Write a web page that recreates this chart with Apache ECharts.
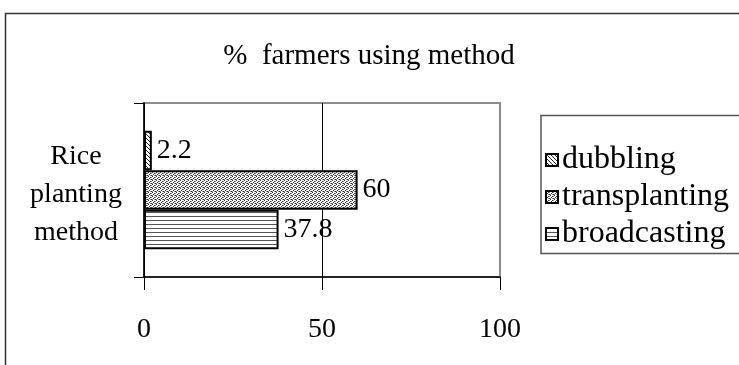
<!DOCTYPE html>
<html>
<head>
<meta charset="utf-8">
<script src="https://cdn.jsdelivr.net/npm/echarts@6/dist/echarts.min.js"></script>
<style>
  html, body { margin: 0; padding: 0; background: #fff; }
  #chart { width: 739px; height: 365px; }
</style>
</head>
<body>
<div id="chart"></div>
<script>
// Chart data
const titleText = '%  farmers using method';
const categories = ['Rice\nplanting\nmethod'];
const seriesNames = ['dubbling', 'transplanting', 'broadcasting'];
const dubbling = [2.2];
const transplanting = [60];
const broadcasting = [37.8];
const legendOrder = ['dubbling', 'transplanting', 'broadcasting'];
const xTicks = [0, 50, 100];

const FONT = '"Liberation Serif", "Times New Roman", serif';

// Fill patterns drawn on small tiles
function tile(w, h, draw) {
  const c = document.createElement('canvas');
  c.width = w; c.height = h;
  const ctx = c.getContext('2d');
  ctx.fillStyle = '#fff';
  ctx.fillRect(0, 0, w, h);
  draw(ctx);
  return c;
}
const diagTile = tile(4, 4, ctx => {
  ctx.fillStyle = '#222';
  for (let i = 0; i < 4; i++) ctx.fillRect(i, i, 1, 1);
});
const dotTile = tile(4, 4, ctx => {
  ctx.fillStyle = '#333';
  ctx.fillRect(0, 0, 1, 1);
  ctx.fillRect(2, 1, 1, 1);
  ctx.fillRect(1, 2, 1, 1);
  ctx.fillRect(3, 3, 1, 1);
  ctx.fillStyle = '#888';
  ctx.fillRect(3, 1, 1, 1);
  ctx.fillRect(0, 3, 1, 1);
  ctx.fillRect(2, 3, 1, 1);
});
const lineTile = tile(4, 4, ctx => {
  ctx.fillStyle = '#555';
  ctx.fillRect(0, 0, 4, 1);
});
const fills = {
  broadcasting: { image: lineTile, repeat: 'repeat' },
  transplanting: { image: dotTile, repeat: 'repeat' },
  dubbling: { image: diagTile, repeat: 'repeat' }
};
const values = { broadcasting, transplanting, dubbling };

const chart = echarts.init(document.getElementById('chart'), null, { renderer: 'canvas' });

chart.setOption({
  animation: false,
  backgroundColor: '#fff',
  title: {
    text: titleText,
    left: 364,
    top: 37,
    textAlign: 'center',
    textStyle: { fontFamily: FONT, fontSize: 29, fontWeight: 'normal', color: '#000' }
  },
  legend: {
    data: legendOrder,
    orient: 'vertical',
    left: 545,
    top: 144,
    itemWidth: 12,
    itemHeight: 12,
    itemGap: 5,
    padding: 0,
    icon: 'rect',
    textStyle: { fontFamily: FONT, fontSize: 32, color: '#000', padding: [0, 0, 0, -1] }
  },
  grid: {
    left: 144,
    right: 239,
    top: 103,
    bottom: 88,
    show: true,
    borderColor: '#8c8c8c',
    borderWidth: 2,
    containLabel: false
  },
  xAxis: {
    type: 'value',
    min: 0,
    max: 100,
    interval: 50,
    axisLine: { show: true, lineStyle: { color: '#000', width: 1.5 } },
    axisTick: { show: true, length: 13, lineStyle: { color: '#000', width: 1 } },
    axisLabel: {
      margin: 39,
      fontFamily: FONT,
      fontSize: 28,
      color: '#000',
      customValues: xTicks
    },
    splitLine: { show: true, lineStyle: { color: ['#000', '#000', '#8c8c8c'], width: 1 } }
  },
  yAxis: {
    type: 'category',
    data: categories,
    axisLine: { show: true, lineStyle: { color: '#000', width: 1.5 } },
    axisTick: { show: true, length: 10, lineStyle: { color: '#000', width: 1 } },
    axisLabel: {
      margin: 68,
      align: 'center',
      fontFamily: FONT,
      fontSize: 28,
      lineHeight: 38,
      color: '#000',
      // a thin spacer line on top nudges the three text lines down a little
      formatter: v => '{gap|}\n' + v,
      rich: { gap: { lineHeight: 9, fontSize: 1 } }
    }
  },
  series: seriesNames.map(name => ({
    name,
    type: 'bar',
    data: values[name],
    barGap: 0,
    barCategoryGap: '32%',
    itemStyle: { color: fills[name], borderColor: '#000', borderWidth: 2 },
    label: {
      show: true,
      position: 'right',
      distance: 5,
      fontFamily: FONT,
      fontSize: 28,
      color: '#000'
    }
  })),
  graphic: [
    {
      // outer chart frame
      type: 'rect',
      shape: { x: 5.5, y: 13.5, width: 760, height: 380 },
      style: { fill: 'none', stroke: '#333', lineWidth: 1.5 },
      z: 10
    },
    {
      // legend box
      type: 'rect',
      shape: { x: 541, y: 115.5, width: 220, height: 138 },
      style: { fill: 'none', stroke: '#555', lineWidth: 1.5 },
      z: 10
    }
  ]
});
</script>
</body>
</html>
